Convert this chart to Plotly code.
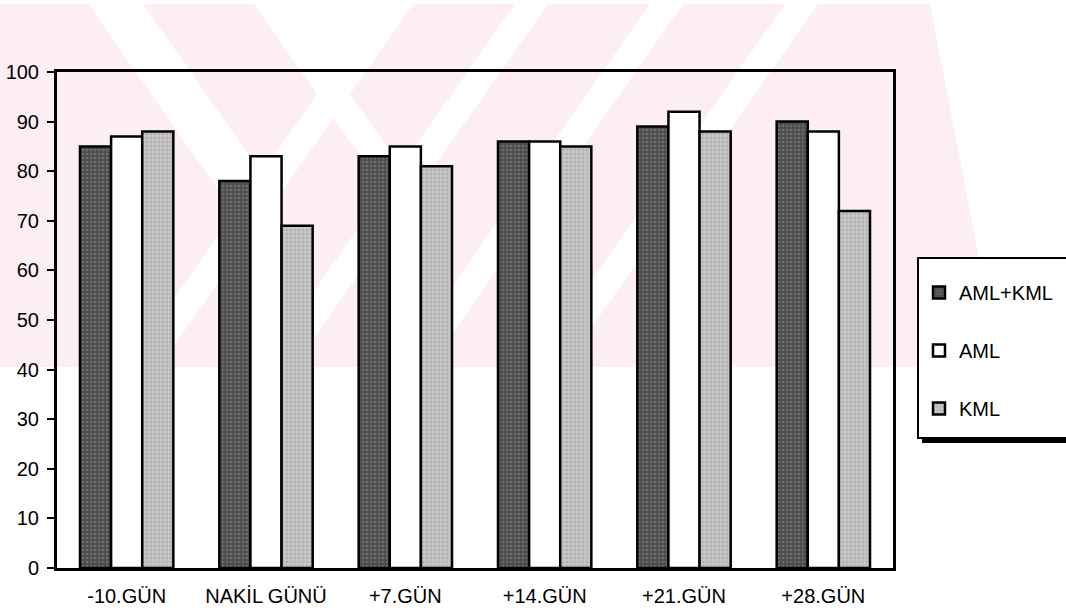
import plotly.graph_objects as go

categories = ["-10.GÜN", "NAKİL GÜNÜ", "+7.GÜN", "+14.GÜN", "+21.GÜN", "+28.GÜN"]
aml_kml = [85, 78, 83, 86, 89, 90]
aml = [87, 83, 85, 86, 92, 88]
kml = [88, 69, 81, 85, 88, 72]
y_ticks = [0, 10, 20, 30, 40, 50, 60, 70, 80, 90, 100]

# page layout (body margin removed via post_script)
W, H = 1066, 613
PX0, PX1, PY0, PY1 = 57, 893, 72, 568          # plot area in page pixels
L, T = PX0, PY0
R, B = W - PX1, H - PY1
pw, ph = PX1 - PX0, PY1 - PY0

def px(x):
    return (x - PX0) / pw

def py(y):
    return (PY1 - y) / ph

fig = go.Figure()
series = [
    ("AML+KML", aml_kml, "#4d4d4d", "#8c8c8c", "."),
    ("AML", aml, "#ffffff", "#ffffff", ""),
    ("KML", kml, "#c6c6c6", "#9c9c9c", "."),
]
for name, vals, col, fg, shp in series:
    fig.add_trace(go.Bar(
        x=categories, y=vals, name=name, legendgroup=name,
        marker=dict(color=col, line=dict(color="black", width=2.5),
                    pattern=dict(shape=shp, fgcolor=fg, size=4, solidity=0.35)),
    ))

# faint pink watermark (decorative background)
PINK = "#fdeef1"
shapes = []

def poly(pts, color):
    path = "M " + " L ".join(f"{px(x):.4f} {py(y):.4f}" for x, y in pts) + " Z"
    return dict(type="path", xref="paper", yref="paper", path=path,
                fillcolor=color, line=dict(width=0), layer="below")

Y0, Y1 = 4, 367
shapes.append(poly([(0, Y0), (930, Y0), (1000, Y1), (0, Y1)], PINK))
k = 0.7
for x0 in [380, 515, 650, 785]:
    w = 33
    shapes.append(poly([(x0, Y0), (x0 + w, Y0), (x0 + w - k * (Y1 - Y0), Y1),
                        (x0 - k * (Y1 - Y0), Y1)], "white"))
for x0, w in [(88, 55), (254, 33)]:
    ye = 200
    shapes.append(poly([(x0, Y0), (x0 + w, Y0), (x0 + w + k * (ye - Y0), ye),
                        (x0 + k * (ye - Y0), ye)], "white"))
shapes.append(poly([(254, Y0), (415, Y0), (318, 95)], "white"))

# legend box with shadow
lx0, ly0, lx1, ly1 = 918, 258, 1075, 438
shapes.append(dict(type="rect", xref="paper", yref="paper",
                   x0=px(lx0 + 4), x1=px(lx1 + 4), y0=py(ly1 + 5), y1=py(ly0 + 5),
                   fillcolor="black", line=dict(width=0), layer="above"))
shapes.append(dict(type="rect", xref="paper", yref="paper",
                   x0=px(lx0), x1=px(lx1), y0=py(ly1), y1=py(ly0),
                   fillcolor="white", line=dict(width=2, color="black"), layer="above"))

fig.update_layout(
    width=W, height=H,
    margin=dict(l=L, r=R, t=T, b=B, autoexpand=False),
    paper_bgcolor="white", plot_bgcolor="rgba(0,0,0,0)",
    barmode="group", bargap=0.33, bargroupgap=0,
    font=dict(family="Liberation Sans, Arial, sans-serif", size=20, color="black"),
    shapes=shapes,
    showlegend=True,
    legend=dict(x=px(919), y=py(273), xanchor="left", yanchor="top",
                bgcolor="rgba(0,0,0,0)", borderwidth=0,
                font=dict(size=20), tracegroupgap=29, itemwidth=30),
    xaxis=dict(showline=True, linecolor="black", linewidth=2.5, mirror=True,
               ticks="", showgrid=False, tickfont=dict(size=20), ticklabelstandoff=8,
               automargin=False),
    yaxis=dict(range=[0, 100], tickvals=y_ticks, showline=True, linecolor="black",
               linewidth=3, mirror=True, ticks="outside", ticklen=7, tickwidth=2,
               tickcolor="black", showgrid=False, zeroline=False,
               tickfont=dict(size=20), ticklabelstandoff=4, automargin=False),
)

fig.write_html("out.html", config={"displayModeBar": False},
               post_script="document.body.style.margin='0';document.body.style.overflow='hidden';")
